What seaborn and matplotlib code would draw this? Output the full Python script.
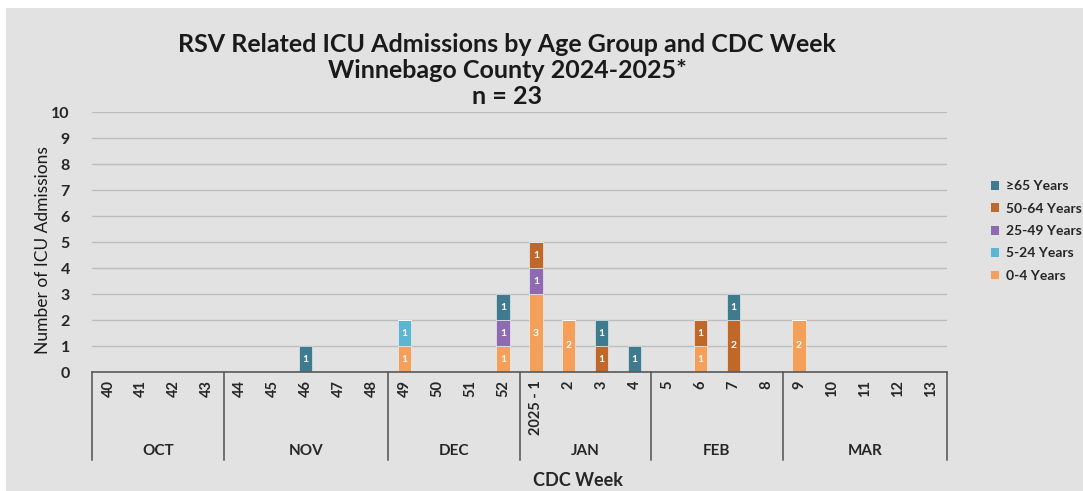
import numpy as np
import pandas as pd
import matplotlib
matplotlib.use("Agg")
import matplotlib.pyplot as plt
import matplotlib.transforms as mtransforms
from matplotlib.patches import Rectangle, Patch
import seaborn as sns

sns.set_theme(style="white")
plt.rcParams['font.family'] = ['Lato', 'DejaVu Sans']

# ---- data ----
weeks = ["40", "41", "42", "43", "44", "45", "46", "47", "48", "49", "50", "51", "52",
         "2025 - 1", "2", "3", "4", "5", "6", "7", "8", "9", "10", "11", "12", "13"]
months = ["OCT", "NOV", "DEC", "JAN", "FEB", "MAR"]
month_weeks = [4, 5, 4, 4, 4, 5]
groups = ["≥65 Years", "50-64 Years", "25-49 Years", "5-24 Years", "0-4 Years"]
colors = ["#3F7B8E", "#C0672A", "#8E6BB0", "#5DB6D1", "#F4A05A"]

age_0_4   = [0, 0, 0, 0, 0, 0, 0, 0, 0, 1, 0, 0, 1, 3, 2, 0, 0, 0, 1, 0, 0, 2, 0, 0, 0, 0]
age_5_24  = [0, 0, 0, 0, 0, 0, 0, 0, 0, 1, 0, 0, 0, 0, 0, 0, 0, 0, 0, 0, 0, 0, 0, 0, 0, 0]
age_25_49 = [0, 0, 0, 0, 0, 0, 0, 0, 0, 0, 0, 0, 1, 1, 0, 0, 0, 0, 0, 0, 0, 0, 0, 0, 0, 0]
age_50_64 = [0, 0, 0, 0, 0, 0, 0, 0, 0, 0, 0, 0, 0, 1, 0, 1, 0, 0, 1, 2, 0, 0, 0, 0, 0, 0]
age_65    = [0, 0, 0, 0, 0, 0, 1, 0, 0, 0, 0, 0, 1, 0, 0, 1, 1, 0, 0, 1, 0, 0, 0, 0, 0, 0]

series = {
    "0-4 Years": age_0_4,
    "5-24 Years": age_5_24,
    "25-49 Years": age_25_49,
    "50-64 Years": age_50_64,
    "≥65 Years": age_65,
}
stack_order = ["0-4 Years", "5-24 Years", "25-49 Years", "50-64 Years", "≥65 Years"]
cmap = dict(zip(groups, colors))

rows = []
for g in stack_order:
    for i, w in enumerate(weeks):
        rows.append({"pos": i, "week": w, "group": g, "n": series[g][i]})
df = pd.DataFrame(rows)

# ---- figure ----
W, H = 1083, 491
fig = plt.figure(figsize=(W / 100, H / 100), dpi=100, facecolor="white")
bg = Rectangle((6 / W, 0), 1 - 6 / W, 1 - 8 / H, transform=fig.transFigure,
               facecolor="#E2E2E2", edgecolor="none", zorder=-10)
fig.patches.append(bg)

ax = fig.add_axes([92 / W, 1 - 372 / H, (947 - 92) / W, 260 / H])
ax.set_facecolor("none")

# stacked bars (first hue level in hue_order is drawn on top)
sns.histplot(data=df, x="pos", weights="n", hue="group", hue_order=groups,
             palette=cmap, multiple="stack", discrete=True, shrink=0.4,
             alpha=1, edgecolor=(1, 1, 1, 0.6), linewidth=0.6, legend=False, ax=ax,
             zorder=3)

# value labels
for i in range(len(weeks)):
    base = 0
    for g in stack_order:
        v = series[g][i]
        if v > 0:
            ax.text(i, base + v / 2, str(v), ha="center", va="center",
                    color="white", fontsize=7.5, fontweight="bold", zorder=5)
        base += v

ax.set_xlim(-0.5, len(weeks) - 0.5)
ax.set_ylim(0, 10)
ax.set_yticks(range(0, 11))
ax.set_yticklabels([str(v) for v in range(0, 11)], fontsize=11.5, fontweight="bold",
                   color="#262626")
ax.tick_params(axis="y", length=0, pad=16)
ax.yaxis.grid(True, color="#BDBDBD", linewidth=1)
ax.set_axisbelow(True)
for s in ["top", "right", "left"]:
    ax.spines[s].set_visible(False)
ax.spines["bottom"].set_color("#595959")
ax.spines["bottom"].set_linewidth(1.2)
ax.spines["bottom"].set_zorder(6)

ax.set_xticks(range(len(weeks)))
ax.set_xticklabels(weeks, rotation=90, fontsize=10.5, fontweight="bold", color="#262626",
                   va="top")
ax.tick_params(axis="x", length=0, pad=6)
ax.set_xlabel("")
ax.set_ylabel("Number of ICU Admissions", fontsize=12.5, color="#1A1A1A", labelpad=10)
ax.yaxis.set_label_coords(-41 / 855, 0.47)

# month separators and labels
trans = mtransforms.blended_transform_factory(ax.transData, ax.transAxes)
bounds = np.concatenate([[0], np.cumsum(month_weeks)]) - 0.5
for b in bounds:
    ax.plot([b, b], [0, -88 / 260], transform=trans, color="#6E6E6E",
            linewidth=1.4, clip_on=False, zorder=6)
for m, lo, hi in zip(months, bounds[:-1], bounds[1:]):
    ax.text((lo + hi) / 2, -79 / 260, m, transform=trans, ha="center", va="center",
            fontsize=11, fontweight="bold", color="#262626")

fig.text(578 / W, 1 - 481 / H, "CDC Week", ha="center", va="center",
         fontsize=13, fontweight="bold", color="#262626")

# title
fig.text(507 / W, 1 - 45 / H, "RSV Related ICU Admissions by Age Group and CDC Week",
         ha="center", va="center", fontsize=18, fontweight="bold", color="#1A1A1A")
fig.text(507 / W, 1 - 70 / H, "Winnebago County 2024-2025*",
         ha="center", va="center", fontsize=18, fontweight="bold", color="#1A1A1A")
fig.text(507 / W, 1 - 96 / H, "n = 23",
         ha="center", va="center", fontsize=18, fontweight="bold", color="#1A1A1A")

# legend
handles = [Patch(facecolor=cmap[g], edgecolor="none") for g in groups]
fig.legend(handles, groups, loc="center left", bbox_to_anchor=(978 / W, 1 - 231 / H),
           frameon=False, prop={"weight": "bold", "size": 10},
           handlelength=0.6, handleheight=0.6, handletextpad=0.5, labelspacing=0.75,
           labelcolor="#262626")

fig.savefig("out.png", dpi=100, facecolor=fig.get_facecolor())
